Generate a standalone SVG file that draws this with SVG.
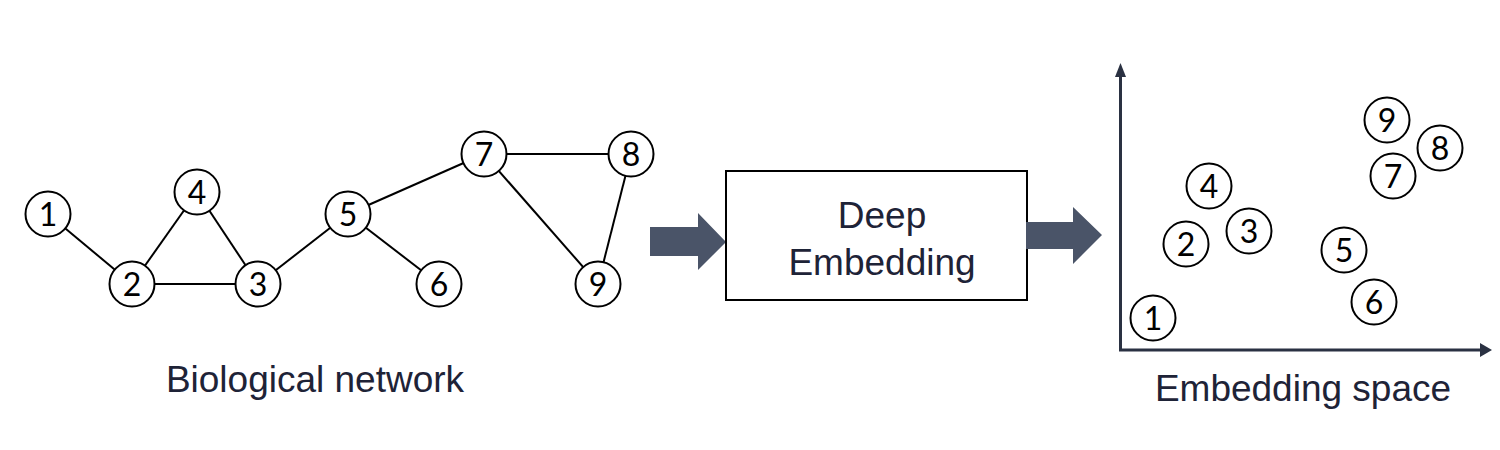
<svg xmlns="http://www.w3.org/2000/svg" width="1500" height="450" viewBox="0 0 1500 450">
<style>
.edge{stroke:#000;stroke-width:2;fill:none}
.node circle{fill:#fff;stroke:#000;stroke-width:2}
.node text{font-family:Lato,"Open Sans","Liberation Sans",sans-serif;font-size:32px;fill:#000;text-anchor:middle}
.lbl{font-family:"Liberation Sans",Arial,sans-serif;font-size:37px;fill:#1e2337;text-anchor:middle}
.axis{stroke:#2a3142;stroke-width:3;fill:none}
.big{fill:#4a5468}
</style>
<rect width="1500" height="450" fill="#fff"/>
<g id="connectors">
<line class="edge" x1="48" y1="214" x2="132" y2="284"/>
<line class="edge" x1="132" y1="284" x2="197" y2="192"/>
<line class="edge" x1="197" y1="192" x2="258" y2="284"/>
<line class="edge" x1="132" y1="284" x2="258" y2="284"/>
<line class="edge" x1="258" y1="284" x2="348" y2="214"/>
<line class="edge" x1="348" y1="214" x2="484" y2="154"/>
<line class="edge" x1="348" y1="214" x2="439" y2="284"/>
<line class="edge" x1="484" y1="154" x2="631" y2="154"/>
<line class="edge" x1="484" y1="154" x2="598" y2="284"/>
<line class="edge" x1="631" y1="154" x2="598" y2="284"/>
</g>
<g id="n1" class="node"><circle cx="48" cy="214" r="22.5"/><text x="48" y="226">1</text></g>
<g id="n2" class="node"><circle cx="132" cy="284" r="22.5"/><text x="132" y="296">2</text></g>
<g id="n3" class="node"><circle cx="258" cy="284" r="22.5"/><text x="258" y="296">3</text></g>
<g id="n4" class="node"><circle cx="197" cy="192" r="22.5"/><text x="197" y="204">4</text></g>
<g id="n5" class="node"><circle cx="348" cy="214" r="22.5"/><text x="348" y="226">5</text></g>
<g id="n6" class="node"><circle cx="439" cy="284" r="22.5"/><text x="439" y="296">6</text></g>
<g id="n7" class="node"><circle cx="484" cy="154" r="22.5"/><text x="484" y="166">7</text></g>
<g id="n8" class="node"><circle cx="631" cy="154" r="22.5"/><text x="631" y="166">8</text></g>
<g id="n9" class="node"><circle cx="598" cy="284" r="22.5"/><text x="598" y="296">9</text></g>
<text class="lbl" x="315" y="392">Biological network</text>

<g id="arrow-in"><polygon class="big" points="650,227 698,227 698,213 726,242 698,270 698,256 650,256"/></g>
<g id="deep-embedding">
<rect x="726" y="171" width="301" height="129" fill="#fff" stroke="#000" stroke-width="2"/>
<text class="lbl" x="882" y="228">Deep</text>
<text class="lbl" x="882" y="275">Embedding</text>
</g>
<g id="arrow-out"><polygon class="big" points="1026,222 1073,222 1073,207 1102,235 1073,264 1073,249 1026,249"/></g>

<g id="axes">
<polyline class="axis" points="1120.5,76 1120.5,350 1481,350"/>
<polygon fill="#2a3142" points="1120.5,63 1126,77 1115,77"/>
<polygon fill="#2a3142" points="1492,350 1480,343 1480,357"/>
</g>
<g id="e1" class="node"><circle cx="1153" cy="318" r="22.5"/><text x="1153" y="330">1</text></g>
<g id="e2" class="node"><circle cx="1186" cy="244" r="22.5"/><text x="1186" y="256">2</text></g>
<g id="e3" class="node"><circle cx="1249" cy="231" r="22.5"/><text x="1249" y="243">3</text></g>
<g id="e4" class="node"><circle cx="1209" cy="186" r="22.5"/><text x="1209" y="198">4</text></g>
<g id="e5" class="node"><circle cx="1344" cy="250" r="22.5"/><text x="1344" y="262">5</text></g>
<g id="e6" class="node"><circle cx="1374" cy="302" r="22.5"/><text x="1374" y="314">6</text></g>
<g id="e7" class="node"><circle cx="1393" cy="176" r="22.5"/><text x="1393" y="188">7</text></g>
<g id="e8" class="node"><circle cx="1440" cy="148" r="22.5"/><text x="1440" y="160">8</text></g>
<g id="e9" class="node"><circle cx="1387" cy="120" r="22.5"/><text x="1387" y="132">9</text></g>
<text class="lbl" x="1303" y="401">Embedding space</text>
</svg>
